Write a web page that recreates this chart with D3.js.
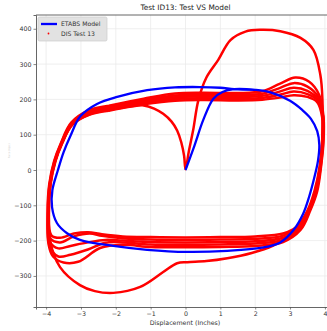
<!DOCTYPE html>
<html>
<head>
<meta charset="utf-8">
<script src="https://cdn.jsdelivr.net/npm/d3@7"></script>
<style>
  body { margin: 0; background: #fff; }
  text { font-family: "DejaVu Sans", sans-serif; }
</style>
</head>
<body>
<div id="chart"></div>
<script>
const title = "Test ID13: Test VS Model";
const xLabel = "Displacement (Inches)";
const yLabel = "Force (Kips)";
const xTicks = [-4, -3, -2, -1, 0, 1, 2, 3, 4];
const yTicks = [-300, -200, -100, 0, 100, 200, 300, 400];
const legendLabels = ["ETABS Model", "DIS Test 13"];

// ETABS model curve
const modelCurve = [[0,0],[0.26,70],[0.51,142],[0.8,202],[1.06,221],[1.4,229],[2.0,227],[2.44,220],[3.0,196],[3.35,170],[3.6,145],[3.78,110],[3.84,70],[3.8,25],[3.7,-20],[3.55,-75],[3.38,-123],[3.1,-170],[2.72,-205],[2.2,-220],[1.2,-229],[0.05,-232],[-1.1,-226],[-2.07,-215],[-3.03,-198],[-3.4,-179],[-3.69,-150],[-3.83,-105],[-3.82,-57],[-3.66,0],[-3.5,50],[-3.3,97],[-3.02,152],[-2.54,187],[-1.96,207],[-1.1,226],[-0.3,234],[0.4,235],[1.0,233],[1.4,229],[2.0,227]];

// DIS test 13, one array per cycle
const testCycle0 = [[-2.2,168],[-1.6,179],[-1.2,183],[-0.9,174],[-0.64,159],[-0.4,137],[-0.24,112],[-0.12,78],[-0.04,40],[0,2],[0.1,55],[0.22,113],[0.37,198],[0.6,262],[0.94,312],[1.29,368],[1.72,392],[2.15,397],[2.72,393],[3.3,374],[3.67,340],[3.87,269],[3.93,198],[3.93,113],[3.9,40],[3.8,-30],[3.62,-95],[3.38,-145],[3.0,-185],[2.5,-215],[1.9,-235],[1.2,-250],[0.6,-258],[0.05,-261],[-0.24,-264],[-0.64,-289],[-1.3,-331],[-2.07,-348],[-2.6,-343],[-3.03,-326],[-3.6,-275],[-3.89,-198],[-3.92,-110],[-3.88,-40],[-3.74,25],[-3.55,75],[-3.25,128],[-2.75,157],[-2.2,168]];
const testCycle1 = [[-2.2,170],[-1.2,186],[-0.3,196],[0.5,198],[1.5,197],[2.2,199],[2.7,205],[3.1,212],[3.5,207],[3.78,192],[3.92,150],[3.92,80],[3.85,10],[3.7,-60],[3.5,-115],[3.2,-160],[2.8,-180],[2.0,-188],[1.0,-190],[0,-191],[-1.0,-190],[-1.8,-188],[-2.4,-182],[-2.8,-176],[-3.2,-180],[-3.6,-192],[-3.85,-185],[-3.92,-120],[-3.87,-40],[-3.73,25],[-3.54,75],[-3.24,130],[-2.75,158],[-2.2,170]];
const testCycle2 = [[-2.2,173],[-1.2,190],[-0.3,201],[0.5,203],[1.5,202],[2.2,204],[2.7,213],[3.1,222],[3.5,215],[3.8,196],[3.94,150],[3.93,80],[3.86,10],[3.72,-60],[3.52,-115],[3.22,-162],[2.8,-186],[2.0,-195],[1.0,-197],[0,-198],[-1.0,-197],[-1.8,-193],[-2.4,-186],[-2.75,-180],[-3.2,-188],[-3.6,-205],[-3.87,-195],[-3.93,-120],[-3.88,-40],[-3.74,25],[-3.55,75],[-3.25,131],[-2.75,161],[-2.2,173]];
const testCycle3 = [[-2.2,176],[-1.2,194],[-0.3,206],[0.5,208],[1.5,207],[2.2,210],[2.7,222],[3.1,233],[3.5,224],[3.8,200],[3.95,150],[3.94,80],[3.87,10],[3.74,-60],[3.54,-115],[3.25,-165],[2.8,-192],[2.0,-202],[1.0,-204],[0,-205],[-1.0,-204],[-1.8,-200],[-2.3,-198],[-2.8,-205],[-3.3,-215],[-3.65,-222],[-3.88,-205],[-3.94,-120],[-3.89,-40],[-3.75,25],[-3.56,75],[-3.26,132],[-2.75,164],[-2.2,176]];
const testCycle4 = [[-2.2,179],[-1.2,198],[-0.3,211],[0.5,213],[1.5,212],[2.2,216],[2.7,232],[3.1,246],[3.5,236],[3.82,205],[3.95,150],[3.95,80],[3.88,10],[3.76,-60],[3.56,-115],[3.27,-168],[2.8,-198],[2.0,-208],[1.0,-211],[0,-212],[-1.0,-211],[-1.8,-205],[-2.3,-206],[-2.8,-225],[-3.3,-240],[-3.65,-245],[-3.9,-215],[-3.95,-120],[-3.9,-40],[-3.76,25],[-3.57,75],[-3.27,133],[-2.75,167],[-2.2,179]];
const testCycle5 = [[-2.2,182],[-1.2,202],[-0.3,217],[0.5,219],[1.5,218],[2.2,223],[2.7,244],[3.15,262],[3.55,250],[3.84,212],[3.96,150],[3.96,80],[3.89,10],[3.78,-60],[3.58,-115],[3.3,-170],[2.8,-204],[2.0,-215],[1.0,-218],[0,-219],[-1.0,-218],[-1.8,-212],[-2.45,-221],[-3.08,-260],[-3.5,-262],[-3.8,-245],[-3.93,-210],[-3.96,-120],[-3.91,-40],[-3.77,25],[-3.58,75],[-3.28,134],[-2.75,170],[-2.2,182]];
const testCycles = [testCycle0, testCycle1, testCycle2, testCycle3, testCycle4, testCycle5];

const width = 327;
const height = 331;
const margin = { top: 15, right: -8, bottom: 24, left: 36 };

const svg = d3.select("#chart").append("svg")
  .attr("width", width)
  .attr("height", height);

const x = d3.scaleLinear()
  .domain([-4.29, 4.29])
  .range([margin.left, width - margin.right]);
const y = d3.scaleLinear()
  .domain([-388, 439])
  .range([height - margin.bottom, margin.top]);

// grid
svg.append("g").selectAll("line").data(xTicks).join("line")
  .attr("x1", d => x(d)).attr("x2", d => x(d))
  .attr("y1", margin.top).attr("y2", height - margin.bottom)
  .attr("stroke", "#ebebeb").attr("stroke-width", 0.8);
svg.append("g").selectAll("line").data(yTicks).join("line")
  .attr("x1", margin.left).attr("x2", width - margin.right)
  .attr("y1", d => y(d)).attr("y2", d => y(d))
  .attr("stroke", "#ebebeb").attr("stroke-width", 0.8);

const line = d3.line()
  .x(d => x(d[0]))
  .y(d => y(d[1]))
  .curve(d3.curveCatmullRom.alpha(0.5));

const plot = svg.append("g");
plot.selectAll("path.test").data(testCycles).join("path")
  .attr("class", "test")
  .attr("d", line)
  .attr("fill", "none")
  .attr("stroke", "#ff0000")
  .attr("stroke-width", 2.5)
  .attr("stroke-linejoin", "round");
plot.append("path")
  .datum(modelCurve)
  .attr("d", line)
  .attr("fill", "none")
  .attr("stroke", "#0000ff")
  .attr("stroke-width", 2.3)
  .attr("stroke-linejoin", "round");

// axes
const xAxis = svg.append("g")
  .attr("transform", `translate(0,${height - margin.bottom})`)
  .call(d3.axisBottom(x).tickValues(xTicks).tickSize(2.5).tickPadding(2)
    .tickFormat(d => d < 0 ? "\u2212" + Math.abs(d) : d));
const yAxis = svg.append("g")
  .attr("transform", `translate(${margin.left},0)`)
  .call(d3.axisLeft(y).tickValues(yTicks).tickSize(2.5).tickPadding(2)
    .tickFormat(d => d < 0 ? "\u2212" + Math.abs(d) : d));
[xAxis, yAxis].forEach(a => {
  a.select(".domain").attr("stroke", "#555").attr("stroke-width", 0.9);
  a.selectAll(".tick line").attr("stroke", "#555").attr("stroke-width", 0.7);
  a.selectAll(".tick text").attr("fill", "#333").style("font-size", "6.3px")
    .style("font-family", "DejaVu Sans, sans-serif");
});
svg.append("line")
  .attr("x1", margin.left).attr("x2", width)
  .attr("y1", margin.top).attr("y2", margin.top)
  .attr("stroke", "#555").attr("stroke-width", 0.9);

// labels
svg.append("text")
  .attr("x", (margin.left + width - margin.right) / 2)
  .attr("y", 10)
  .attr("text-anchor", "middle")
  .attr("fill", "#222")
  .style("font-size", "7.4px")
  .text(title);
svg.append("text")
  .attr("x", 185)
  .attr("y", 325)
  .attr("text-anchor", "middle")
  .attr("fill", "#333")
  .style("font-size", "6.3px")
  .text(xLabel);
svg.append("text")
  .attr("transform", "translate(10,151) rotate(-90)")
  .attr("text-anchor", "middle")
  .attr("fill", "#ccc")
  .style("font-size", "2.5px")
  .text(yLabel);

// legend
const legend = svg.append("g").attr("transform", "translate(38,17)");
legend.append("rect")
  .attr("width", 69).attr("height", 24).attr("rx", 1.5)
  .attr("fill", "#e2e2e2").attr("stroke", "#cccccc").attr("stroke-width", 0.7);
legend.append("line")
  .attr("x1", 3).attr("x2", 19).attr("y1", 7).attr("y2", 7)
  .attr("stroke", "#0000ff").attr("stroke-width", 2.3);
legend.append("circle")
  .attr("cx", 10.5).attr("cy", 16.5).attr("r", 0.9)
  .attr("fill", "#ff0000");
legend.selectAll("text.lab").data(legendLabels).join("text")
  .attr("class", "lab")
  .attr("x", 23)
  .attr("y", (d, i) => 9.3 + i * 9.3)
  .attr("fill", "#333")
  .style("font-size", "6.1px")
  .text(d => d);
</script>
</body>
</html>
